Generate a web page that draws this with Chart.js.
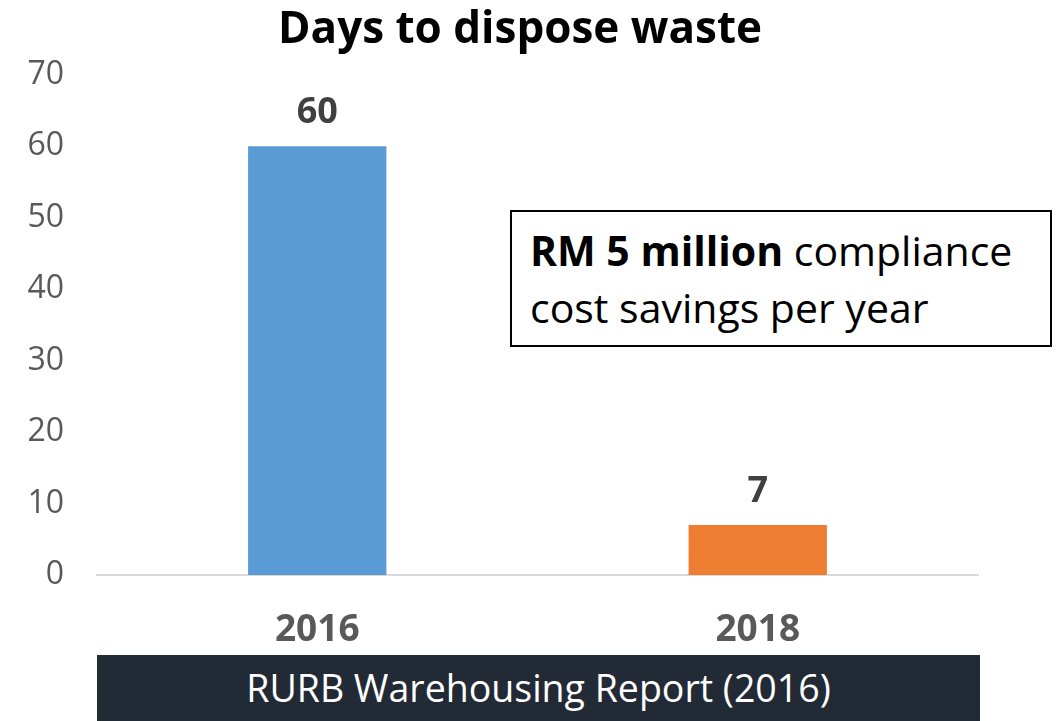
<!DOCTYPE html>
<html>
<head>
<meta charset="utf-8">
<script src="https://cdn.jsdelivr.net/npm/chart.js@4"></script>
<style>
    body { margin: 0; background: #ffffff; font-family: "Open Sans", sans-serif; }
    #wrap { position: relative; width: 1056px; height: 721px; overflow: hidden; }
    #callout {
        position: absolute; left: 510px; top: 210px; width: 538px; height: 133px;
        border: 2px solid #000; background: #fff;
        font-size: 41px; line-height: 57px; color: #000;
    }
    #callout div { padding-left: 18px; padding-top: 10px; white-space: nowrap; }
    #source {
        position: absolute; left: 97px; top: 655px; width: 883px; height: 66px;
        background: #222a35; color: #ffffff; font-size: 37.5px; line-height: 66px;
        text-align: center;
    }
</style>
</head>
<body>
<div id="wrap">
    <canvas id="myChart" width="1056" height="721"></canvas>
    <div id="callout"><div><b>RM 5 million</b> compliance<br>cost savings per year</div></div>
    <div id="source">RURB Warehousing Report (2016)</div>
</div>
<script>
    // Chart data
    const years = ['2016', '2018']
    const daysToDispose = [60, 7]
    const barColors = ['#5b9bd5', '#ed7d31']
    const yTicks = [0, 10, 20, 30, 40, 50, 60, 70]

    // Value labels above each bar
    const valueLabels = {
        id: 'valueLabels',
        afterDatasetsDraw(chart) {
            const ctx = chart.ctx
            const meta = chart.getDatasetMeta(0)
            ctx.save()
            ctx.font = 'bold 36px "Open Sans"'
            ctx.fillStyle = '#404040'
            ctx.textAlign = 'center'
            ctx.textBaseline = 'alphabetic'
            meta.data.forEach((bar, i) => {
                ctx.fillText(daysToDispose[i], bar.x, bar.y - 23)
            })
            ctx.restore()
        }
    }

    const ctx = document.getElementById('myChart').getContext('2d')
    const myChart = new Chart(ctx, {
        type: 'bar',
        data: {
            labels: years,
            datasets: [{
                data: daysToDispose,
                backgroundColor: barColors,
                barPercentage: 0.314,
                categoryPercentage: 1
            }]
        },
        options: {
            responsive: false,
            animation: false,
            layout: { padding: { left: 0, right: 16, top: 0, bottom: 0 } },
            plugins: {
                legend: { display: false },
                tooltip: { enabled: false },
                title: {
                    display: true,
                    text: 'Days to dispose waste',
                    color: '#000000',
                    font: { family: 'Open Sans', size: 44, weight: 'bold' },
                    padding: { top: 4, bottom: 18 }
                }
            },
            scales: {
                x: {
                    grid: { display: false, drawTicks: false },
                    border: { display: true, color: '#d9d9d9', width: 2 },
                    ticks: {
                        color: '#595959',
                        font: { family: 'Open Sans', size: 37, weight: 'bold' },
                        padding: 33
                    },
                    afterFit(scale) { scale.height = 146 }
                },
                y: {
                    min: 0,
                    max: 70,
                    afterBuildTicks(scale) { scale.ticks = yTicks.map(v => ({ value: v })) },
                    grid: { display: false, drawTicks: false },
                    border: { display: false },
                    ticks: {
                        color: '#595959',
                        font: { family: 'Open Sans', size: 32 },
                        padding: 33
                    },
                    afterFit(scale) { scale.width = 97 }
                },
                // empty right-hand spacer so the plot ends where the reference does
                yRight: {
                    position: 'right',
                    min: 0,
                    max: 70,
                    grid: { display: false, drawTicks: false },
                    border: { display: false },
                    ticks: { display: false },
                    afterFit(scale) { scale.width = 62 }
                }
            }
        },
        plugins: [valueLabels]
    });
</script>
</body>
</html>
